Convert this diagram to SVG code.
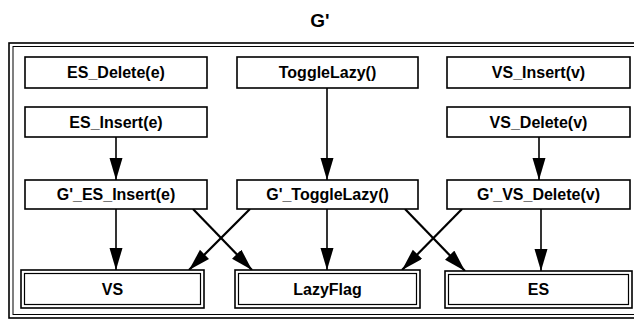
<svg xmlns="http://www.w3.org/2000/svg" width="634" height="320" viewBox="0 0 634 320">
  <style>
    .box { fill: #fff; stroke: #000; stroke-width: 1.6; }
    .inner { fill: none; stroke: #000; stroke-width: 1.2; }
    .lbl { font-family: "Liberation Sans", Arial, sans-serif; font-weight: bold; font-size: 16px; text-anchor: middle; fill: #000; }
    .edge { stroke: #000; stroke-width: 1.6; fill: none; marker-end: url(#head); }
    .diag { stroke-width: 2.2; }
    .frame { fill: none; stroke: #000; }
  </style>
  <defs>
    <marker id="head" markerUnits="userSpaceOnUse" markerWidth="24" markerHeight="14" refX="22" refY="6.5" orient="auto">
      <path d="M0,0 L22,6.5 L0,13 Z" fill="#000"/>
    </marker>
  </defs>

  <rect width="634" height="320" fill="#fff"/>

  <!-- title -->
  <text x="320" y="27" font-family="Liberation Sans, Arial, sans-serif" font-weight="bold" font-size="19" text-anchor="middle">G'</text>

  <!-- enclosing double frame -->
  <rect class="frame" x="9" y="43" width="640" height="275" stroke-width="1.6"/>
  <rect class="frame" x="13" y="46.5" width="640" height="268" stroke-width="1"/>

  <!-- connectors -->
  <g id="connectors">
    <line class="edge" x1="116" y1="137" x2="116" y2="180"/>
    <line class="edge" x1="327" y1="88" x2="327" y2="180"/>
    <line class="edge" x1="539" y1="137" x2="539" y2="180"/>
    <line class="edge" x1="116" y1="209" x2="116" y2="270"/>
    <line class="edge diag" x1="193" y1="209" x2="252" y2="270"/>
    <line class="edge diag" x1="250" y1="209" x2="189" y2="270"/>
    <line class="edge" x1="327" y1="209" x2="327" y2="270"/>
    <line class="edge diag" x1="405" y1="209" x2="465" y2="271"/>
    <line class="edge diag" x1="462" y1="209" x2="402" y2="270"/>
    <line class="edge" x1="541" y1="209" x2="541" y2="271"/>
  </g>

  <!-- operation nodes -->
  <g id="es-delete">
    <rect class="box" x="25" y="57" width="182" height="31"/>
    <text class="lbl" x="116" y="78">ES_Delete(e)</text>
  </g>
  <g id="toggle-lazy">
    <rect class="box" x="237" y="57" width="181" height="31"/>
    <text class="lbl" x="327.5" y="78">ToggleLazy()</text>
  </g>
  <g id="vs-insert">
    <rect class="box" x="447" y="57" width="183" height="31"/>
    <text class="lbl" x="538.5" y="78">VS_Insert(v)</text>
  </g>
  <g id="es-insert">
    <rect class="box" x="25" y="107" width="182" height="30"/>
    <text class="lbl" x="116" y="127.5">ES_Insert(e)</text>
  </g>
  <g id="vs-delete">
    <rect class="box" x="447" y="107" width="183" height="30"/>
    <text class="lbl" x="538.5" y="127.5">VS_Delete(v)</text>
  </g>
  <g id="g-es-insert">
    <rect class="box" x="25" y="180" width="182" height="29"/>
    <text class="lbl" x="116" y="200">G'_ES_Insert(e)</text>
  </g>
  <g id="g-toggle-lazy">
    <rect class="box" x="237" y="180" width="181" height="29"/>
    <text class="lbl" x="327.5" y="200">G'_ToggleLazy()</text>
  </g>
  <g id="g-vs-delete">
    <rect class="box" x="447" y="180" width="183" height="29"/>
    <text class="lbl" x="538.5" y="200">G'_VS_Delete(v)</text>
  </g>

  <!-- state nodes (double border) -->
  <g id="vs">
    <rect class="box" x="21" y="270" width="183" height="38"/>
    <rect class="inner" x="24.5" y="273.5" width="176" height="31"/>
    <text class="lbl" x="112.5" y="294.5">VS</text>
  </g>
  <g id="lazy-flag">
    <rect class="box" x="235" y="270" width="185" height="38"/>
    <rect class="inner" x="238.5" y="273.5" width="178" height="31"/>
    <text class="lbl" x="327.5" y="294.5">LazyFlag</text>
  </g>
  <g id="es">
    <rect class="box" x="445" y="271" width="187" height="37"/>
    <rect class="inner" x="448.5" y="274.5" width="180" height="30"/>
    <text class="lbl" x="538.5" y="295">ES</text>
  </g>
</svg>
